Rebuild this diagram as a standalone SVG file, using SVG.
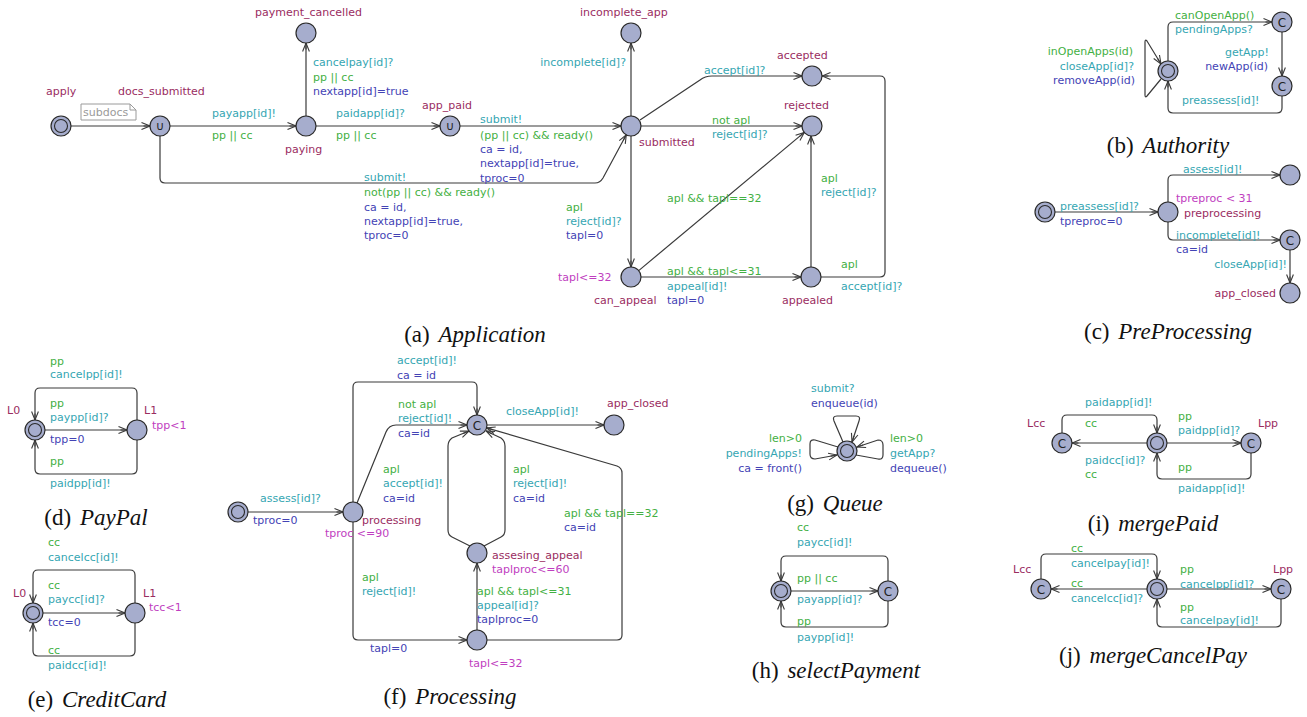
<svg xmlns="http://www.w3.org/2000/svg" width="1307" height="717" viewBox="0 0 1307 717">
<style>
  text { font-family: "DejaVu Sans", "Liberation Sans", sans-serif; font-size: 11px; }
  .loc { fill: #a6adcd; stroke: #2a2a2a; stroke-width: 1.2; }
  .inner { fill: none; stroke: #2a2a2a; stroke-width: 1.1; }
  .sym { font-size: 12px; text-anchor: middle; fill: #222; }
  .nm { fill: #9a2d5f; }
  .inv { fill: #c03ec0; }
  .sy { fill: #35a6b2; }
  .gd { fill: #43b043; }
  .up { fill: #4343b5; }
  .end { text-anchor: end; }
  .edge { fill: none; stroke: #3a3a3a; stroke-width: 1.2; marker-end: url(#arr); }
  .cap { font-family: "Liberation Serif", "Times New Roman", serif; font-size: 23px; text-anchor: middle; fill: #111; }
  .cap tspan { font-style: italic; }
  .note { fill: #fff; stroke: #9a9a9a; stroke-width: 1; }
</style>
<defs>
  <marker id="arr" viewBox="0 0 10 10" refX="9.5" refY="5" markerWidth="10" markerHeight="10" markerUnits="userSpaceOnUse" orient="auto">
    <path d="M1,1.6 L9.5,5 L1,8.4" fill="none" stroke="#3a3a3a" stroke-width="1.1"/>
    <path d="M3,5 L9.5,5" stroke="#3a3a3a" stroke-width="1.1"/>
  </marker>
</defs>

<!-- ===================== (a) Application ===================== -->
<g id="connectors-application">
  <path class="edge" d="M71,126 L150,126"/>
  <path class="edge" d="M170,126 L296,126"/>
  <path class="edge" d="M306,116 L306,43"/>
  <path class="edge" d="M316,126 L440,126"/>
  <path class="edge" d="M460,126 L621,126"/>
  <path class="edge" d="M160,136 L160,178 Q160,183 165,183 L595,183 Q600,183 603,178 L626.3,134.8"/>
  <path class="edge" d="M631,116 L631,43"/>
  <path class="edge" d="M640,120 L700,80 Q705,76 712,76 L802,76"/>
  <path class="edge" d="M641,126 L802,126"/>
  <path class="edge" d="M631,136 L631,267"/>
  <path class="edge" d="M638.7,270.6 L804.3,132.4"/>
  <path class="edge" d="M641,277 L801,277"/>
  <path class="edge" d="M811,267 L811,136"/>
  <path class="edge" d="M821,277 L880,277 Q885,277 885,272 L885,81 Q885,76 880,76 L822,76"/>
  <!-- edge labels -->
  <text class="sy" x="212" y="117">payapp[id]!</text>
  <text class="gd" x="212" y="139">pp || cc</text>
  <text class="sy" x="313" y="66">cancelpay[id]?</text>
  <text class="gd" x="313" y="81">pp || cc</text>
  <text class="up" x="313" y="95">nextapp[id]=true</text>
  <text class="sy" x="336" y="117">paidapp[id]?</text>
  <text class="gd" x="336" y="139">pp || cc</text>
  <text class="sy" x="480" y="123">submit!</text>
  <text class="gd" x="480" y="139">(pp || cc) &amp;&amp; ready()</text>
  <text class="up" x="480" y="153">ca = id,</text>
  <text class="up" x="480" y="167">nextapp[id]=true,</text>
  <text class="up" x="480" y="182">tproc=0</text>
  <text class="sy" x="364" y="181">submit!</text>
  <text class="gd" x="364" y="196">not(pp || cc) &amp;&amp; ready()</text>
  <text class="up" x="364" y="211">ca = id,</text>
  <text class="up" x="364" y="225">nextapp[id]=true,</text>
  <text class="up" x="364" y="239">tproc=0</text>
  <text class="sy end" x="626" y="66">incomplete[id]?</text>
  <text class="sy" x="704" y="74">accept[id]?</text>
  <text class="gd" x="712" y="124">not apl</text>
  <text class="sy" x="712" y="138">reject[id]?</text>
  <text class="gd" x="566" y="211">apl</text>
  <text class="sy" x="566" y="225">reject[id]?</text>
  <text class="up" x="566" y="239">tapl=0</text>
  <text class="gd" x="667" y="202">apl &amp;&amp; tapl==32</text>
  <text class="gd" x="667" y="275">apl &amp;&amp; tapl&lt;=31</text>
  <text class="sy" x="667" y="290">appeal[id]!</text>
  <text class="up" x="667" y="304">tapl=0</text>
  <text class="gd" x="821" y="182">apl</text>
  <text class="sy" x="821" y="196">reject[id]?</text>
  <text class="gd" x="841" y="268">apl</text>
  <text class="sy" x="841" y="290">accept[id]?</text>
</g>
<g id="app-apply">
  <circle class="loc" cx="61" cy="126" r="10"/>
  <circle class="inner" cx="61" cy="126" r="6.5"/>
  <text class="nm" x="46" y="95">apply</text>
  <path class="note" d="M81,104 L130,104 L136,110 L136,120 L81,120 Z M130,104 L130,110 L136,110"/>
  <text x="83" y="116" fill="#9a9a9a">subdocs</text>
</g>
<g id="app-docs_submitted">
  <circle class="loc" cx="160" cy="126" r="10"/>
  <text class="sym" x="160" y="130">∪</text>
  <text class="nm" x="118" y="95">docs_submitted</text>
</g>
<g id="app-paying">
  <circle class="loc" cx="306" cy="126" r="10"/>
  <text class="nm" x="285" y="153">paying</text>
</g>
<g id="app-payment_cancelled">
  <circle class="loc" cx="306" cy="33" r="10"/>
  <text class="nm" x="255" y="16">payment_cancelled</text>
</g>
<g id="app-app_paid">
  <circle class="loc" cx="450" cy="126" r="10"/>
  <text class="sym" x="450" y="130">∪</text>
  <text class="nm" x="422" y="109">app_paid</text>
</g>
<g id="app-submitted">
  <circle class="loc" cx="631" cy="126" r="10"/>
  <text class="nm" x="639" y="146">submitted</text>
</g>
<g id="app-incomplete_app">
  <circle class="loc" cx="631" cy="33" r="10"/>
  <text class="nm" x="580" y="16">incomplete_app</text>
</g>
<g id="app-accepted">
  <circle class="loc" cx="812" cy="76" r="10"/>
  <text class="nm" x="777" y="59">accepted</text>
</g>
<g id="app-rejected">
  <circle class="loc" cx="812" cy="126" r="10"/>
  <text class="nm" x="784" y="109">rejected</text>
</g>
<g id="app-can_appeal">
  <circle class="loc" cx="631" cy="277" r="10"/>
  <text class="inv" x="558" y="281">tapl&lt;=32</text>
  <text class="nm" x="594" y="304">can_appeal</text>
</g>
<g id="app-appealed">
  <circle class="loc" cx="811" cy="277" r="10"/>
  <text class="nm" x="782" y="304">appealed</text>
</g>
<text class="cap" x="475" y="342">(a) <tspan dx="3">Application</tspan></text>

<!-- ===================== (b) Authority ===================== -->
<g id="connectors-authority">
  <path class="edge" d="M1161,79 L1147,96 Q1145,98 1145,95 L1145,42 Q1145,39 1147,41 L1161,64"/>
  <path class="edge" d="M1168,61 L1168,27 Q1168,22 1173,22 L1272,22"/>
  <path class="edge" d="M1282,32 L1282,76"/>
  <path class="edge" d="M1282,96 L1282,108 Q1282,113 1277,113 L1173,113 Q1168,113 1168,108 L1168,81"/>
  <text class="gd end" x="1133" y="55">inOpenApps(id)</text>
  <text class="sy end" x="1134" y="70">closeApp[id]?</text>
  <text class="up end" x="1135" y="84">removeApp(id)</text>
  <text class="gd" x="1175" y="19">canOpenApp()</text>
  <text class="sy" x="1175" y="33">pendingApps?</text>
  <text class="sy end" x="1269" y="56">getApp!</text>
  <text class="up end" x="1268" y="70">newApp(id)</text>
  <text class="sy" x="1182" y="104">preassess[id]!</text>
</g>
<g id="auth-idle">
  <circle class="loc" cx="1168" cy="71" r="10"/>
  <circle class="inner" cx="1168" cy="71" r="6.5"/>
</g>
<g id="auth-pending">
  <circle class="loc" cx="1282" cy="22" r="10"/>
  <text class="sym" x="1282" y="26.5">C</text>
</g>
<g id="auth-got">
  <circle class="loc" cx="1282" cy="86" r="10"/>
  <text class="sym" x="1282" y="90.5">C</text>
</g>
<text class="cap" x="1168" y="153">(b) <tspan dx="3">Authority</tspan></text>

<!-- ===================== (c) PreProcessing ===================== -->
<g id="connectors-preprocessing">
  <path class="edge" d="M1055,212 L1158,212"/>
  <path class="edge" d="M1168,202 L1168,180 Q1168,175 1173,175 L1280,175"/>
  <path class="edge" d="M1168,222 L1168,235 Q1168,240 1173,240 L1280,240"/>
  <path class="edge" d="M1290,250 L1290,283"/>
  <text class="sy" x="1060" y="210">preassess[id]?</text>
  <text class="up" x="1060" y="225">tpreproc=0</text>
  <text class="sy" x="1183" y="173">assess[id]!</text>
  <text class="sy" x="1176" y="239">incomplete[id]!</text>
  <text class="up" x="1176" y="253">ca=id</text>
  <text class="sy end" x="1287" y="268">closeApp[id]!</text>
</g>
<g id="pre-init">
  <circle class="loc" cx="1045" cy="212" r="10"/>
  <circle class="inner" cx="1045" cy="212" r="6.5"/>
</g>
<g id="pre-preprocessing">
  <circle class="loc" cx="1168" cy="212" r="10"/>
  <text class="inv" x="1176" y="202">tpreproc &lt; 31</text>
  <text class="nm" x="1184" y="217">preprocessing</text>
</g>
<g id="pre-assessed">
  <circle class="loc" cx="1290" cy="175" r="10"/>
</g>
<g id="pre-incomplete">
  <circle class="loc" cx="1290" cy="240" r="10"/>
  <text class="sym" x="1290" y="244.5">C</text>
</g>
<g id="pre-app_closed">
  <circle class="loc" cx="1290" cy="293" r="10"/>
  <text class="nm end" x="1276" y="297">app_closed</text>
</g>
<text class="cap" x="1168" y="339">(c) <tspan dx="3">PreProcessing</tspan></text>

<!-- ===================== (d) PayPal ===================== -->
<g id="connectors-paypal">
  <path class="edge" d="M45,430 L127,430"/>
  <path class="edge" d="M137,420 L137,393 Q137,388 132,388 L40,388 Q35,388 35,393 L35,420"/>
  <path class="edge" d="M137,440 L137,469 Q137,474 132,474 L40,474 Q35,474 35,469 L35,440"/>
  <text class="gd" x="50" y="365">pp</text>
  <text class="sy" x="50" y="378">cancelpp[id]!</text>
  <text class="gd" x="50" y="407">pp</text>
  <text class="sy" x="50" y="421">paypp[id]?</text>
  <text class="up" x="50" y="443">tpp=0</text>
  <text class="gd" x="50" y="465">pp</text>
  <text class="sy" x="50" y="487">paidpp[id]!</text>
</g>
<g id="pp-L0">
  <circle class="loc" cx="35" cy="430" r="10"/>
  <circle class="inner" cx="35" cy="430" r="6.5"/>
  <text class="nm" x="7" y="414">L0</text>
</g>
<g id="pp-L1">
  <circle class="loc" cx="137" cy="430" r="10"/>
  <text class="nm" x="144" y="414">L1</text>
  <text class="inv" x="152" y="429">tpp&lt;1</text>
</g>
<text class="cap" x="96" y="525">(d) <tspan dx="3">PayPal</tspan></text>

<!-- ===================== (e) CreditCard ===================== -->
<g id="connectors-creditcard">
  <path class="edge" d="M43,613 L125,613"/>
  <path class="edge" d="M135,603 L135,575 Q135,570 130,570 L38,570 Q33,570 33,575 L33,603"/>
  <path class="edge" d="M135,623 L135,651 Q135,656 130,656 L38,656 Q33,656 33,651 L33,623"/>
  <text class="gd" x="48" y="546">cc</text>
  <text class="sy" x="48" y="561">cancelcc[id]!</text>
  <text class="gd" x="48" y="589">cc</text>
  <text class="sy" x="48" y="603">paycc[id]?</text>
  <text class="up" x="48" y="626">tcc=0</text>
  <text class="gd" x="48" y="654">cc</text>
  <text class="sy" x="48" y="669">paidcc[id]!</text>
</g>
<g id="cc-L0">
  <circle class="loc" cx="33" cy="613" r="10"/>
  <circle class="inner" cx="33" cy="613" r="6.5"/>
  <text class="nm" x="13" y="597">L0</text>
</g>
<g id="cc-L1">
  <circle class="loc" cx="135" cy="613" r="10"/>
  <text class="nm" x="143" y="597">L1</text>
  <text class="inv" x="149" y="611">tcc&lt;1</text>
</g>
<text class="cap" x="97" y="707">(e) <tspan dx="3">CreditCard</tspan></text>

<!-- ===================== (f) Processing ===================== -->
<g id="connectors-processing">
  <path class="edge" d="M248,512 L343,512"/>
  <path class="edge" d="M353,502 L353,387 Q353,382 358,382 L472,382 Q477,382 477,387 L477,415"/>
  <path class="edge" d="M357,503 L386,432 Q389,425 396,425 L467,425"/>
  <path class="edge" d="M487,425 L604,425"/>
  <path class="edge" d="M353,522 L353,635 Q353,640 358,640 L467,640"/>
  <path class="edge" d="M477,630 L477,563"/>
  <path class="edge" d="M470,546 L452,537 Q448,535 448,530 L448,446 Q448,441 452,438 L469,431"/>
  <path class="edge" d="M484,546 L501,537 Q505,535 505,530 L505,446 Q505,441 501,438 L486,431"/>
  <path class="edge" d="M487,640 L617,640 Q622,640 622,635 L622,473 Q622,468 617,466 L486.6,427.9"/>
  <text class="sy" x="260" y="502">assess[id]?</text>
  <text class="up" x="253" y="524">tproc=0</text>
  <text class="sy" x="397" y="364">accept[id]!</text>
  <text class="up" x="397" y="379">ca = id</text>
  <text class="gd" x="398" y="408">not apl</text>
  <text class="sy" x="398" y="422">reject[id]!</text>
  <text class="up" x="398" y="437">ca=id</text>
  <text class="gd" x="383" y="473">apl</text>
  <text class="sy" x="383" y="487">accept[id]!</text>
  <text class="up" x="383" y="502">ca=id</text>
  <text class="sy" x="506" y="415">closeApp[id]!</text>
  <text class="gd" x="513" y="473">apl</text>
  <text class="sy" x="513" y="487">reject[id]!</text>
  <text class="up" x="513" y="502">ca=id</text>
  <text class="gd" x="564" y="517">apl &amp;&amp; tapl==32</text>
  <text class="up" x="564" y="531">ca=id</text>
  <text class="gd" x="477" y="595">apl &amp;&amp; tapl&lt;=31</text>
  <text class="sy" x="477" y="609">appeal[id]?</text>
  <text class="up" x="477" y="623">taplproc=0</text>
  <text class="gd" x="362" y="581">apl</text>
  <text class="sy" x="362" y="595">reject[id]!</text>
  <text class="up" x="370" y="652">tapl=0</text>
</g>
<g id="proc-init">
  <circle class="loc" cx="238" cy="512" r="10"/>
  <circle class="inner" cx="238" cy="512" r="6.5"/>
</g>
<g id="proc-processing">
  <circle class="loc" cx="353" cy="512" r="10"/>
  <text class="nm" x="362" y="524">processing</text>
  <text class="inv" x="325" y="537">tproc &lt;=90</text>
</g>
<g id="proc-decided">
  <circle class="loc" cx="477" cy="425" r="10"/>
  <text class="sym" x="477" y="429.5">C</text>
</g>
<g id="proc-app_closed">
  <circle class="loc" cx="614" cy="425" r="10"/>
  <text class="nm" x="607" y="407">app_closed</text>
</g>
<g id="proc-assesing_appeal">
  <circle class="loc" cx="477" cy="553" r="10"/>
  <text class="nm" x="492" y="559">assesing_appeal</text>
  <text class="inv" x="492" y="573">taplproc&lt;=60</text>
</g>
<g id="proc-wait_appeal">
  <circle class="loc" cx="477" cy="640" r="10"/>
  <text class="inv" x="469" y="667">tapl&lt;=32</text>
</g>
<text class="cap" x="450" y="704">(f) <tspan dx="3">Processing</tspan></text>

<!-- ===================== (g) Queue ===================== -->
<g id="connectors-queue">
  <path class="edge" d="M843,442 L834,421 Q832,416 837,416 L856,416 Q861,416 859,421 L852,442"/>
  <path class="edge" d="M838,447 L815,440 Q810,439 810,444 L810,454 Q810,459 815,459 L837,455"/>
  <path class="edge" d="M856,455 L878,459 Q883,460 883,455 L883,445 Q883,440 878,440 L857,447"/>
  <text class="sy" x="811" y="392">submit?</text>
  <text class="up" x="811" y="407">enqueue(id)</text>
  <text class="gd end" x="802" y="442">len&gt;0</text>
  <text class="sy end" x="802" y="457">pendingApps!</text>
  <text class="up end" x="802" y="472">ca = front()</text>
  <text class="gd" x="890" y="442">len&gt;0</text>
  <text class="sy" x="890" y="457">getApp?</text>
  <text class="up" x="890" y="472">dequeue()</text>
</g>
<g id="queue-idle">
  <circle class="loc" cx="847" cy="451" r="10"/>
  <circle class="inner" cx="847" cy="451" r="6.5"/>
</g>
<text class="cap" x="835" y="511">(g) <tspan dx="3">Queue</tspan></text>

<!-- ===================== (h) selectPayment ===================== -->
<g id="connectors-selectpayment">
  <path class="edge" d="M791,591 L878,591"/>
  <path class="edge" d="M888,581 L888,561 Q888,556 883,556 L786,556 Q781,556 781,561 L781,581"/>
  <path class="edge" d="M888,601 L888,622 Q888,627 883,627 L786,627 Q781,627 781,622 L781,601"/>
  <text class="gd" x="797" y="531">cc</text>
  <text class="sy" x="797" y="546">paycc[id]!</text>
  <text class="gd" x="797" y="582">pp || cc</text>
  <text class="sy" x="797" y="603">payapp[id]?</text>
  <text class="gd" x="797" y="625">pp</text>
  <text class="sy" x="797" y="641">paypp[id]!</text>
</g>
<g id="sel-idle">
  <circle class="loc" cx="781" cy="591" r="10"/>
  <circle class="inner" cx="781" cy="591" r="6.5"/>
</g>
<g id="sel-choose">
  <circle class="loc" cx="888" cy="591" r="10"/>
  <text class="sym" x="888" y="595.5">C</text>
</g>
<text class="cap" x="836" y="678">(h) <tspan dx="3">selectPayment</tspan></text>

<!-- ===================== (i) mergePaid ===================== -->
<g id="connectors-mergepaid">
  <path class="edge" d="M1147,443 L1072,443"/>
  <path class="edge" d="M1062,433 L1062,420 Q1062,415 1067,415 L1152,415 Q1157,415 1157,420 L1157,433"/>
  <path class="edge" d="M1167,443 L1241,443"/>
  <path class="edge" d="M1251,453 L1251,474 Q1251,479 1246,479 L1162,479 Q1157,479 1157,474 L1157,453"/>
  <text class="sy" x="1085" y="406">paidapp[id]!</text>
  <text class="gd" x="1085" y="427">cc</text>
  <text class="sy" x="1085" y="464">paidcc[id]?</text>
  <text class="gd" x="1085" y="478">cc</text>
  <text class="gd" x="1178" y="420">pp</text>
  <text class="sy" x="1178" y="434">paidpp[id]?</text>
  <text class="gd" x="1178" y="471">pp</text>
  <text class="sy" x="1178" y="492">paidapp[id]!</text>
</g>
<g id="mp-Lcc">
  <circle class="loc" cx="1062" cy="443" r="10"/>
  <text class="sym" x="1062" y="447.5">C</text>
  <text class="nm" x="1027" y="427">Lcc</text>
</g>
<g id="mp-idle">
  <circle class="loc" cx="1157" cy="443" r="10"/>
  <circle class="inner" cx="1157" cy="443" r="6.5"/>
</g>
<g id="mp-Lpp">
  <circle class="loc" cx="1251" cy="443" r="10"/>
  <text class="sym" x="1251" y="447.5">C</text>
  <text class="nm" x="1258" y="427">Lpp</text>
</g>
<text class="cap" x="1153" y="531">(i) <tspan dx="3">mergePaid</tspan></text>

<!-- ===================== (j) mergeCancelPay ===================== -->
<g id="connectors-mergecancelpay">
  <path class="edge" d="M1147,589 L1051,589"/>
  <path class="edge" d="M1041,579 L1041,559 Q1041,554 1046,554 L1152,554 Q1157,554 1157,559 L1157,579"/>
  <path class="edge" d="M1167,589 L1271,589"/>
  <path class="edge" d="M1281,599 L1281,622 Q1281,627 1276,627 L1162,627 Q1157,627 1157,622 L1157,599"/>
  <text class="gd" x="1071" y="552">cc</text>
  <text class="sy" x="1071" y="567">cancelpay[id]!</text>
  <text class="gd" x="1071" y="587">cc</text>
  <text class="sy" x="1071" y="602">cancelcc[id]?</text>
  <text class="gd" x="1180" y="573">pp</text>
  <text class="sy" x="1180" y="588">cancelpp[id]?</text>
  <text class="gd" x="1180" y="611">pp</text>
  <text class="sy" x="1180" y="624">cancelpay[id]!</text>
</g>
<g id="mc-Lcc">
  <circle class="loc" cx="1041" cy="589" r="10"/>
  <text class="sym" x="1041" y="593.5">C</text>
  <text class="nm" x="1013" y="573">Lcc</text>
</g>
<g id="mc-idle">
  <circle class="loc" cx="1157" cy="589" r="10"/>
  <circle class="inner" cx="1157" cy="589" r="6.5"/>
</g>
<g id="mc-Lpp">
  <circle class="loc" cx="1281" cy="589" r="10"/>
  <text class="sym" x="1281" y="593.5">C</text>
  <text class="nm" x="1273" y="573">Lpp</text>
</g>
<text class="cap" x="1153" y="663">(j) <tspan dx="3">mergeCancelPay</tspan></text>
</svg>
